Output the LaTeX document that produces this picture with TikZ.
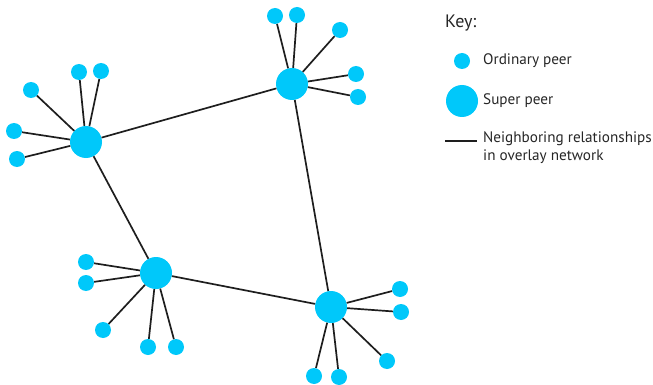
\documentclass[tikz,border=0pt]{standalone}
\usepackage{fontspec}
\setmainfont{PT Sans}
\definecolor{peer}{RGB}{0,200,250}
\definecolor{link}{RGB}{30,30,30}
\tikzset{
  ordinary/.style={circle,fill=peer,inner sep=0pt,minimum size=16pt},
  super/.style={circle,fill=peer,inner sep=0pt,minimum size=32pt},
  nbr/.style={draw=link,line width=1.7pt},
  keytext/.style={anchor=west,inner sep=0pt,font=\fontsize{15.2}{18}\selectfont,text=black!85}
}
\begin{document}
\begin{tikzpicture}[x=1pt,y=-1pt]
\useasboundingbox (0,0) rectangle (653,385);
% super peers
\node[super] (A) at (86,142) {};
\node[super] (B) at (292,84) {};
\node[super] (C) at (156,273) {};
\node[super] (D) at (331,307) {};
% ordinary peers around A
\node[ordinary] (a1) at (79,72) {};
\node[ordinary] (a2) at (101,71) {};
\node[ordinary] (a3) at (31,90) {};
\node[ordinary] (a4) at (14,131) {};
\node[ordinary] (a5) at (17,159) {};
% around B
\node[ordinary] (b1) at (275,16) {};
\node[ordinary] (b2) at (297,15) {};
\node[ordinary] (b3) at (340,30) {};
\node[ordinary] (b4) at (356,74) {};
\node[ordinary] (b5) at (358,97) {};
% around C
\node[ordinary] (c1) at (86,262) {};
\node[ordinary] (c2) at (86,283) {};
\node[ordinary] (c3) at (103,330) {};
\node[ordinary] (c4) at (148,347) {};
\node[ordinary] (c5) at (176,347) {};
% around D
\node[ordinary] (d1) at (400,289) {};
\node[ordinary] (d2) at (401,312) {};
\node[ordinary] (d3) at (387,361) {};
\node[ordinary] (d4) at (314,376) {};
\node[ordinary] (d5) at (339,377) {};
% overlay links between peers
\foreach \s/\t in {A/B,A/C,B/D,C/D,A/a1,A/a2,A/a3,A/a4,A/a5,B/b1,B/b2,B/b3,B/b4,B/b5,C/c1,C/c2,C/c3,C/c4,C/c5,D/d1,D/d2,D/d3,D/d4,D/d5}
  \draw[nbr] (\s) -- (\t);
% key
\node[keytext,font=\fontsize{18}{21}\selectfont] (key) at (445,23) {Key:};
\node[ordinary] (ko) at (462,61) {};
\node[keytext] (kot) at (483,61) {Ordinary peer};
\node[super] (ks) at (462,101) {};
\node[keytext] (kst) at (483,101) {Super peer};
\coordinate (kl1) at (445,141);
\coordinate (kl2) at (477,141);
\draw[nbr] (kl1) -- (kl2);
\node[keytext,align=left,anchor=north west] (klt) at (483,131) {Neighboring relationships\\in overlay network};
\end{tikzpicture}
\end{document}
